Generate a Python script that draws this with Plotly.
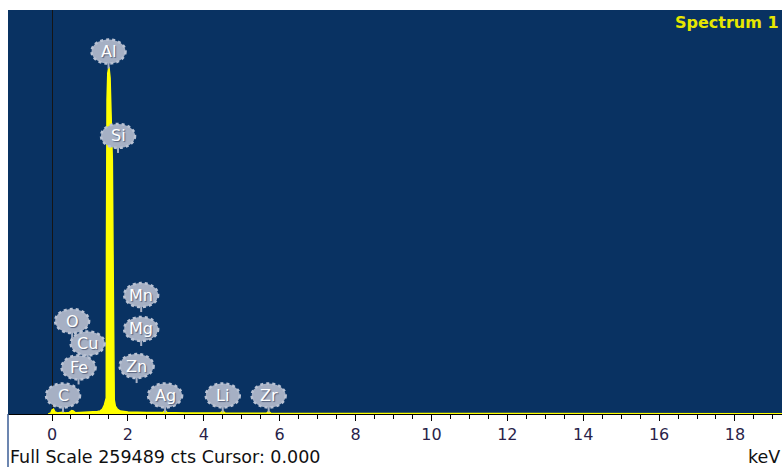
import numpy as np
import plotly.graph_objects as go

# EDS spectrum: energy (keV) and counts
energy_kev = [-0.10, -0.03, 0.00, 0.04, 0.08, 0.15, 0.22, 0.28, 0.34, 0.45, 0.52, 0.56,
              0.62, 0.75, 0.90, 1.05, 1.20, 1.27, 1.33, 1.38, 1.43, 1.435, 1.44, 1.45,
              1.47, 1.50, 1.53, 1.56, 1.59, 1.61, 1.62, 1.64, 1.67, 1.72, 1.80, 2.00,
              2.50, 2.93, 2.98, 3.03, 3.50, 4.44, 4.50, 4.56, 5.00, 5.65, 5.71, 5.77,
              7.00, 10.00, 15.00, 19.30]
counts = [0, 600, 2600, 3200, 1300, 700, 900, 1300, 700, 900, 2200, 2000,
          800, 900, 1000, 1200, 1600, 2000, 3200, 5800, 10300, 105000, 169500, 201600,
          219000, 223000, 216000, 195200, 163100, 98900, 28200, 9000, 5100, 3200, 1900, 1300,
          960, 900, 2300, 900, 700, 600, 1900, 600, 500, 450, 1600, 450,
          350, 250, 150, 100]

full_scale = 259489

# Element markers: name, energy (keV), marker height (counts)
elements = ["Al", "Si", "Mn", "O", "Mg", "Cu", "Zn", "Fe", "C", "Ag", "Li", "Zr"]
element_kev = [1.49, 1.74, 2.35, 0.53, 2.35, 0.94, 2.23, 0.70, 0.29, 2.98, 4.50, 5.71]
element_counts = [232800, 178600, 76400, 59700, 54600, 45300, 30800, 29900,
                  11900, 11900, 11900, 11900]

tick_vals = list(range(0, 20, 2))
tick_text = [str(v) for v in tick_vals]

NAVY = "#093262"
YELLOW = "#ffff00"
BUBBLE = "#a6b0c4"
FONT = "DejaVu Sans"

fig = go.Figure()
fig.add_trace(go.Scatter(
    x=energy_kev, y=counts, mode="lines",
    line=dict(color=YELLOW, width=1.5),
    fill="tozeroy", fillcolor=YELLOW,
    hoverinfo="skip", showlegend=False,
))

shapes = []
annotations = []
for name, ek, ct in zip(elements, element_kev, element_counts):
    # stem below the bubble
    shapes.append(dict(
        type="line", xref="x", yref="y",
        xsizemode="pixel", ysizemode="pixel",
        xanchor=ek, yanchor=ct, x0=0, x1=0, y0=-10, y1=-17,
        line=dict(color=BUBBLE, width=2), layer="above",
    ))
    # scalloped bubble
    shapes.append(dict(
        type="circle", xref="x", yref="y",
        xsizemode="pixel", ysizemode="pixel",
        xanchor=ek, yanchor=ct, x0=-17, x1=17, y0=-12, y1=12,
        fillcolor=BUBBLE, line=dict(color="#b9c2d3", width=2.5, dash="dot"),
        layer="above",
    ))
    annotations.append(dict(
        x=ek, y=ct, xref="x", yref="y", text=name, showarrow=False,
        font=dict(family=FONT, size=16, color="white", shadow="1px 1px 1px #55607a"),
        xanchor="center", yanchor="middle",
    ))

# frame edge continuing below the plot area on the left
shapes.append(dict(type="line", xref="paper", yref="paper",
                   x0=0, x1=0, y0=0, y1=-0.14,
                   line=dict(color="#3b5e96", width=1.5), layer="above"))

annotations += [
    dict(x=0.0, y=-0.1065, xref="paper", yref="paper",
         text="Full Scale 259489 cts Cursor: 0.000", showarrow=False,
         xanchor="left", yanchor="middle",
         font=dict(family=FONT, size=17.5, color="#111111")),
    dict(x=1.0, y=-0.1065, xref="paper", yref="paper", text="keV",
         showarrow=False, xanchor="right", yanchor="middle",
         font=dict(family=FONT, size=17.5, color="#111111")),
    dict(x=0.9987, y=0.968, xref="paper", yref="paper", text="<b>Spectrum 1</b>",
         showarrow=False, xanchor="right", yanchor="middle",
         font=dict(family=FONT, size=16, color="#e6e600")),
]

minor_vals = [v for v in np.arange(0.5, 19.5, 0.5) if v % 2 != 0]

fig.update_layout(
    width=782, height=467,
    margin=dict(l=8, r=0, t=10, b=53),
    paper_bgcolor="white", plot_bgcolor=NAVY,
    shapes=shapes, annotations=annotations,
    xaxis=dict(
        range=[-1.16, 19.24], showgrid=False,
        zeroline=True, zerolinecolor="#151515", zerolinewidth=1,
        showline=True, linecolor="#000000", linewidth=1,
        tickmode="array", tickvals=tick_vals, ticktext=tick_text,
        ticks="outside", ticklen=6, tickcolor="#000000", tickwidth=1,
        tickfont=dict(family=FONT, size=16, color="#2a1f4a"),
        minor=dict(tickmode="array", tickvals=minor_vals, ticks="outside",
                   ticklen=4, tickcolor="#000000", tickwidth=1, showgrid=False),
        fixedrange=True,
    ),
    yaxis=dict(
        range=[0, full_scale], visible=False, showgrid=False, zeroline=False,
        fixedrange=True,
    ),
)

fig.write_html("out.html")
